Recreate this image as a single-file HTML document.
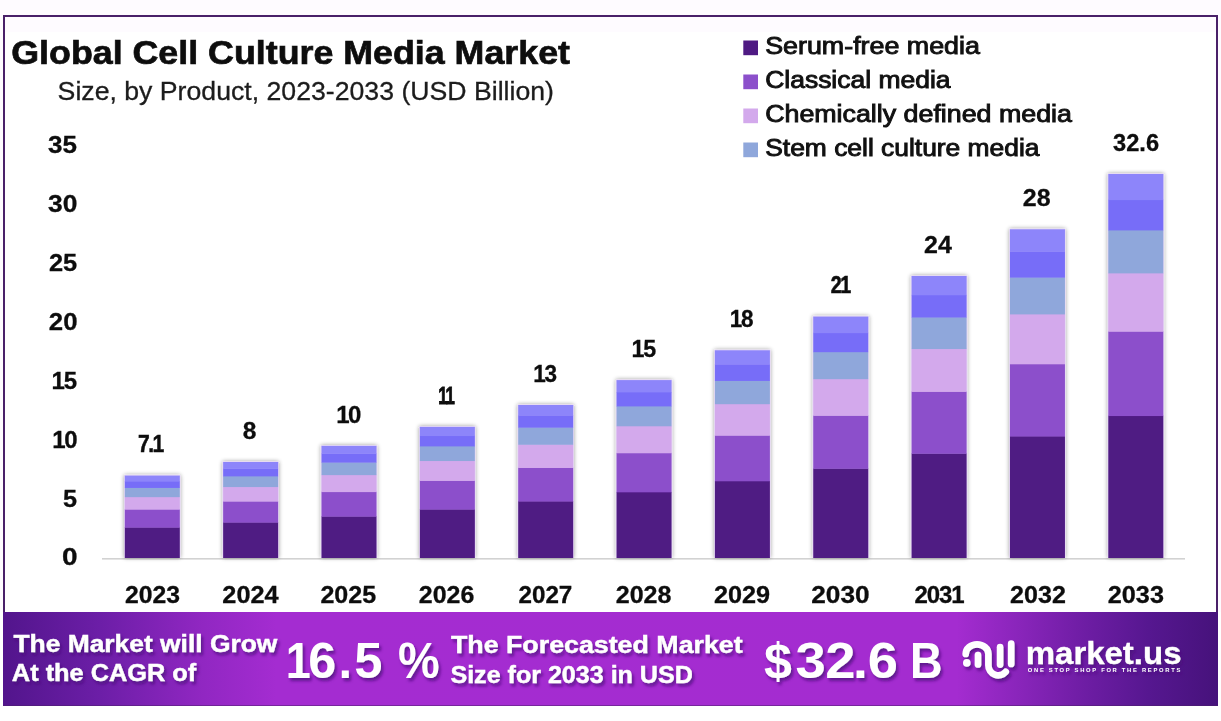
<!DOCTYPE html>
<html lang="en">
<head>
<meta charset="utf-8">
<title>Global Cell Culture Media Market</title>
<style>
html,body{margin:0;padding:0;background:#ffffff;}
body{width:1221px;height:721px;overflow:hidden;font-family:"Liberation Sans",sans-serif;}
svg{display:block;position:absolute;left:0;top:0;}
text{font-family:"Liberation Sans",sans-serif;}
.b{font-weight:700;}
</style>
</head>
<body>
<svg width="1221" height="721" viewBox="0 0 1221 721">
<defs>
<linearGradient id="bg" x1="0" y1="0" x2="1" y2="0">
<stop offset="0" stop-color="#52158c"/>
<stop offset="0.08" stop-color="#6c1ea7"/>
<stop offset="0.165" stop-color="#9127c2"/>
<stop offset="0.225" stop-color="#a42cd1"/>
<stop offset="0.785" stop-color="#a42cd0"/>
<stop offset="0.835" stop-color="#8a25bb"/>
<stop offset="0.89" stop-color="#6e1da4"/>
<stop offset="0.943" stop-color="#561790"/>
<stop offset="1" stop-color="#46127b"/>
</linearGradient>
<filter id="bsh" x="-20%" y="-5%" width="140%" height="110%">
<feGaussianBlur in="SourceAlpha" stdDeviation="2.2"/>
<feOffset dx="0" dy="0"/>
<feComponentTransfer><feFuncA type="linear" slope="0.38"/></feComponentTransfer>
<feMerge><feMergeNode/><feMergeNode in="SourceGraphic"/></feMerge>
</filter>
<filter id="tsh" x="-5%" y="-30%" width="110%" height="170%">
<feGaussianBlur in="SourceAlpha" stdDeviation="1.5" result="bl"/>
<feOffset in="bl" dx="1.8" dy="2.6" result="off"/>
<feFlood flood-color="#4a0f7a" flood-opacity="0.75" result="c"/>
<feComposite in="c" in2="off" operator="in" result="sh"/>
<feMerge><feMergeNode in="sh"/><feMergeNode in="SourceGraphic"/></feMerge>
</filter>
</defs>

<rect x="0" y="0" width="1221" height="721" fill="#ffffff"/>
<rect x="0" y="0" width="1221" height="32" fill="#fefbff"/>
<rect x="0" y="15" width="3" height="597" fill="#fefbff"/>
<rect x="1218" y="15" width="3" height="597" fill="#fefbff"/>
<rect x="4" y="16" width="1213" height="689" fill="none" stroke="#4a2069" stroke-width="2"/>
<text x="11.26" y="63.6" font-size="34" font-weight="700" fill="#0d0d0d" textLength="558.73" lengthAdjust="spacingAndGlyphs" stroke="#0d0d0d" stroke-width="0.7">Global Cell Culture Media Market</text>
<text x="57.64" y="100" font-size="26" font-weight="400" fill="#1c1c1c" textLength="496.3" lengthAdjust="spacingAndGlyphs" stroke="#1c1c1c" stroke-width="0.3">Size, by Product, 2023-2033 (USD Billion)</text>
<text x="48.11" y="153" font-size="24" font-weight="700" fill="#0d0d0d" textLength="28.95" lengthAdjust="spacingAndGlyphs" stroke="#0d0d0d" stroke-width="0.3">35</text>
<text x="48.11" y="212" font-size="24" font-weight="700" fill="#0d0d0d" textLength="29.37" lengthAdjust="spacingAndGlyphs" stroke="#0d0d0d" stroke-width="0.3">30</text>
<text x="48.91" y="271" font-size="24" font-weight="700" fill="#0d0d0d" textLength="28.28" lengthAdjust="spacingAndGlyphs" stroke="#0d0d0d" stroke-width="0.3">25</text>
<text x="48.89" y="330" font-size="24" font-weight="700" fill="#0d0d0d" textLength="28.66" lengthAdjust="spacingAndGlyphs" stroke="#0d0d0d" stroke-width="0.3">20</text>
<text transform="translate(51.45,389)" x="0" y="0" font-size="24" font-weight="700" fill="#0d0d0d" letter-spacing="-1.047" stroke="#0d0d0d" stroke-width="0.3">15</text>
<text transform="translate(52.35,448)" x="0" y="0" font-size="24" font-weight="700" fill="#0d0d0d" letter-spacing="-1.466" stroke="#0d0d0d" stroke-width="0.3">10</text>
<text x="63.05" y="507" font-size="24" font-weight="700" fill="#0d0d0d" textLength="14.05" lengthAdjust="spacingAndGlyphs" stroke="#0d0d0d" stroke-width="0.3">5</text>
<text x="61.96" y="565" font-size="24" font-weight="700" fill="#0d0d0d" textLength="15.56" lengthAdjust="spacingAndGlyphs" stroke="#0d0d0d" stroke-width="0.3">0</text>
<rect x="102" y="558" width="1083" height="1.6" fill="#d2d2d2"/>
<g filter="url(#bsh)">
<rect x="124.00" y="474.80" width="56.6" height="83.20" rx="1.2" fill="#e6d9f4"/>
<rect x="124.80" y="527.26" width="55" height="30.74" fill="#4f1a83"/>
<rect x="124.80" y="509.22" width="55" height="18.44" fill="#8c50cb"/>
<rect x="124.80" y="496.76" width="55" height="12.86" fill="#d3a9ec"/>
<rect x="124.80" y="487.57" width="55" height="9.58" fill="#8fa7db"/>
<rect x="124.80" y="481.09" width="55" height="6.88" fill="#776df8"/>
<rect x="124.80" y="475.60" width="55" height="5.89" fill="#8d85fa"/>
</g>
<text transform="translate(138.12,452.2) scale(0.88,1)" x="0" y="0" font-size="24" font-weight="700" fill="#0d0d0d" letter-spacing="-1.838" stroke="#0d0d0d" stroke-width="0.5">7.1</text>
<text x="125.05" y="603" font-size="24" font-weight="700" fill="#0d0d0d" textLength="54.99" lengthAdjust="spacingAndGlyphs" stroke="#0d0d0d" stroke-width="0.3">2023</text>
<g filter="url(#bsh)">
<rect x="222.35" y="461.20" width="56.6" height="96.80" rx="1.2" fill="#e6d9f4"/>
<rect x="223.15" y="522.23" width="55" height="35.77" fill="#4f1a83"/>
<rect x="223.15" y="501.20" width="55" height="21.43" fill="#8c50cb"/>
<rect x="223.15" y="486.66" width="55" height="14.93" fill="#d3a9ec"/>
<rect x="223.15" y="475.96" width="55" height="11.11" fill="#8fa7db"/>
<rect x="223.15" y="468.41" width="55" height="7.95" fill="#776df8"/>
<rect x="223.15" y="462.00" width="55" height="6.81" fill="#8d85fa"/>
</g>
<text x="242.65" y="438.6" font-size="24" font-weight="700" fill="#0d0d0d" textLength="13.65" lengthAdjust="spacingAndGlyphs" stroke="#0d0d0d" stroke-width="0.3">8</text>
<text x="222.32" y="603" font-size="24" font-weight="700" fill="#0d0d0d" textLength="56.26" lengthAdjust="spacingAndGlyphs" stroke="#0d0d0d" stroke-width="0.3">2024</text>
<g filter="url(#bsh)">
<rect x="320.70" y="445.10" width="56.6" height="112.90" rx="1.2" fill="#e6d9f4"/>
<rect x="321.50" y="516.27" width="55" height="41.73" fill="#4f1a83"/>
<rect x="321.50" y="491.70" width="55" height="24.97" fill="#8c50cb"/>
<rect x="321.50" y="474.72" width="55" height="17.38" fill="#d3a9ec"/>
<rect x="321.50" y="462.21" width="55" height="12.91" fill="#8fa7db"/>
<rect x="321.50" y="453.38" width="55" height="9.22" fill="#776df8"/>
<rect x="321.50" y="445.90" width="55" height="7.88" fill="#8d85fa"/>
</g>
<text transform="translate(336.25,422.5)" x="0" y="0" font-size="24" font-weight="700" fill="#0d0d0d" letter-spacing="-1.607" stroke="#0d0d0d" stroke-width="0.3">10</text>
<text x="320.43" y="603" font-size="24" font-weight="700" fill="#0d0d0d" textLength="55.75" lengthAdjust="spacingAndGlyphs" stroke="#0d0d0d" stroke-width="0.3">2025</text>
<g filter="url(#bsh)">
<rect x="419.05" y="426.10" width="56.6" height="131.90" rx="1.2" fill="#e6d9f4"/>
<rect x="419.85" y="509.24" width="55" height="48.76" fill="#4f1a83"/>
<rect x="419.85" y="480.49" width="55" height="29.15" fill="#8c50cb"/>
<rect x="419.85" y="460.62" width="55" height="20.27" fill="#d3a9ec"/>
<rect x="419.85" y="445.98" width="55" height="15.04" fill="#8fa7db"/>
<rect x="419.85" y="435.66" width="55" height="10.73" fill="#776df8"/>
<rect x="419.85" y="426.90" width="55" height="9.16" fill="#8d85fa"/>
</g>
<text transform="translate(438.29,403.5) scale(0.7,1)" x="0" y="0" font-size="24" font-weight="700" fill="#0d0d0d" letter-spacing="-1.572" stroke="#0d0d0d" stroke-width="0.9">11</text>
<text x="418.84" y="603" font-size="24" font-weight="700" fill="#0d0d0d" textLength="55.49" lengthAdjust="spacingAndGlyphs" stroke="#0d0d0d" stroke-width="0.3">2026</text>
<g filter="url(#bsh)">
<rect x="517.40" y="404.20" width="56.6" height="153.80" rx="1.2" fill="#e6d9f4"/>
<rect x="518.20" y="501.14" width="55" height="56.86" fill="#4f1a83"/>
<rect x="518.20" y="467.57" width="55" height="33.97" fill="#8c50cb"/>
<rect x="518.20" y="444.37" width="55" height="23.60" fill="#d3a9ec"/>
<rect x="518.20" y="427.28" width="55" height="17.49" fill="#8fa7db"/>
<rect x="518.20" y="415.22" width="55" height="12.46" fill="#776df8"/>
<rect x="518.20" y="405.00" width="55" height="10.62" fill="#8d85fa"/>
</g>
<text transform="translate(533.21,381.6) scale(0.94,1)" x="0" y="0" font-size="24" font-weight="700" fill="#0d0d0d" letter-spacing="-1.456" stroke="#0d0d0d" stroke-width="0.3">13</text>
<text x="518.47" y="603" font-size="24" font-weight="700" fill="#0d0d0d" textLength="53.83" lengthAdjust="spacingAndGlyphs" stroke="#0d0d0d" stroke-width="0.3">2027</text>
<g filter="url(#bsh)">
<rect x="615.75" y="379.30" width="56.6" height="178.70" rx="1.2" fill="#e6d9f4"/>
<rect x="616.55" y="491.93" width="55" height="66.08" fill="#4f1a83"/>
<rect x="616.55" y="452.88" width="55" height="39.45" fill="#8c50cb"/>
<rect x="616.55" y="425.89" width="55" height="27.38" fill="#d3a9ec"/>
<rect x="616.55" y="406.01" width="55" height="20.28" fill="#8fa7db"/>
<rect x="616.55" y="391.99" width="55" height="14.42" fill="#776df8"/>
<rect x="616.55" y="380.10" width="55" height="12.29" fill="#8d85fa"/>
</g>
<text transform="translate(631.48,356.7) scale(0.97,1)" x="0" y="0" font-size="24" font-weight="700" fill="#0d0d0d" letter-spacing="-1.272" stroke="#0d0d0d" stroke-width="0.3">15</text>
<text x="615.73" y="603" font-size="24" font-weight="700" fill="#0d0d0d" textLength="55.71" lengthAdjust="spacingAndGlyphs" stroke="#0d0d0d" stroke-width="0.3">2028</text>
<g filter="url(#bsh)">
<rect x="714.10" y="349.50" width="56.6" height="208.50" rx="1.2" fill="#e6d9f4"/>
<rect x="714.90" y="480.90" width="55" height="77.10" fill="#4f1a83"/>
<rect x="714.90" y="435.29" width="55" height="46.01" fill="#8c50cb"/>
<rect x="714.90" y="403.78" width="55" height="31.91" fill="#d3a9ec"/>
<rect x="714.90" y="380.57" width="55" height="23.62" fill="#8fa7db"/>
<rect x="714.90" y="364.19" width="55" height="16.78" fill="#776df8"/>
<rect x="714.90" y="350.30" width="55" height="14.29" fill="#8d85fa"/>
</g>
<text transform="translate(729.81,326.9) scale(0.94,1)" x="0" y="0" font-size="24" font-weight="700" fill="#0d0d0d" letter-spacing="-1.454" stroke="#0d0d0d" stroke-width="0.3">18</text>
<text x="714.03" y="603" font-size="24" font-weight="700" fill="#0d0d0d" textLength="56.13" lengthAdjust="spacingAndGlyphs" stroke="#0d0d0d" stroke-width="0.3">2029</text>
<g filter="url(#bsh)">
<rect x="812.45" y="315.80" width="56.6" height="242.20" rx="1.2" fill="#e6d9f4"/>
<rect x="813.25" y="468.43" width="55" height="89.57" fill="#4f1a83"/>
<rect x="813.25" y="415.41" width="55" height="53.42" fill="#8c50cb"/>
<rect x="813.25" y="378.78" width="55" height="37.03" fill="#d3a9ec"/>
<rect x="813.25" y="351.79" width="55" height="27.39" fill="#8fa7db"/>
<rect x="813.25" y="332.75" width="55" height="19.44" fill="#776df8"/>
<rect x="813.25" y="316.60" width="55" height="16.55" fill="#8d85fa"/>
</g>
<text transform="translate(830.63,293.2) scale(0.82,1)" x="0" y="0" font-size="24" font-weight="700" fill="#0d0d0d" letter-spacing="-1.513" stroke="#0d0d0d" stroke-width="0.6">21</text>
<text x="811.27" y="603" font-size="24" font-weight="700" fill="#0d0d0d" textLength="58.27" lengthAdjust="spacingAndGlyphs" stroke="#0d0d0d" stroke-width="0.3">2030</text>
<g filter="url(#bsh)">
<rect x="910.80" y="275.20" width="56.6" height="282.80" rx="1.2" fill="#e6d9f4"/>
<rect x="911.60" y="453.41" width="55" height="104.59" fill="#4f1a83"/>
<rect x="911.60" y="391.46" width="55" height="62.35" fill="#8c50cb"/>
<rect x="911.60" y="348.65" width="55" height="43.20" fill="#d3a9ec"/>
<rect x="911.60" y="317.11" width="55" height="31.94" fill="#8fa7db"/>
<rect x="911.60" y="294.87" width="55" height="22.65" fill="#776df8"/>
<rect x="911.60" y="276.00" width="55" height="19.27" fill="#8d85fa"/>
</g>
<text x="924.04" y="252.6" font-size="24" font-weight="700" fill="#0d0d0d" textLength="27.76" lengthAdjust="spacingAndGlyphs" stroke="#0d0d0d" stroke-width="0.3">24</text>
<text transform="translate(914.47,603)" x="0" y="0" font-size="24" font-weight="700" fill="#0d0d0d" letter-spacing="-1.089" stroke="#0d0d0d" stroke-width="0.3">2031</text>
<g filter="url(#bsh)">
<rect x="1009.15" y="228.50" width="56.6" height="329.50" rx="1.2" fill="#e6d9f4"/>
<rect x="1009.95" y="436.13" width="55" height="121.87" fill="#4f1a83"/>
<rect x="1009.95" y="363.90" width="55" height="72.63" fill="#8c50cb"/>
<rect x="1009.95" y="314.00" width="55" height="50.30" fill="#d3a9ec"/>
<rect x="1009.95" y="277.23" width="55" height="37.17" fill="#8fa7db"/>
<rect x="1009.95" y="251.30" width="55" height="26.34" fill="#776df8"/>
<rect x="1009.95" y="229.30" width="55" height="22.40" fill="#8d85fa"/>
</g>
<text x="1022.84" y="205.9" font-size="24" font-weight="700" fill="#0d0d0d" textLength="27.75" lengthAdjust="spacingAndGlyphs" stroke="#0d0d0d" stroke-width="0.3">28</text>
<text x="1010.13" y="603" font-size="24" font-weight="700" fill="#0d0d0d" textLength="55.75" lengthAdjust="spacingAndGlyphs" stroke="#0d0d0d" stroke-width="0.3">2032</text>
<g filter="url(#bsh)">
<rect x="1107.50" y="173.20" width="56.6" height="384.80" rx="1.2" fill="#e6d9f4"/>
<rect x="1108.30" y="415.67" width="55" height="142.33" fill="#4f1a83"/>
<rect x="1108.30" y="331.28" width="55" height="84.79" fill="#8c50cb"/>
<rect x="1108.30" y="272.97" width="55" height="58.71" fill="#d3a9ec"/>
<rect x="1108.30" y="230.01" width="55" height="43.36" fill="#8fa7db"/>
<rect x="1108.30" y="199.70" width="55" height="30.70" fill="#776df8"/>
<rect x="1108.30" y="174.00" width="55" height="26.10" fill="#8d85fa"/>
</g>
<text x="1113.04" y="150.6" font-size="24" font-weight="700" fill="#0d0d0d" textLength="46.0" lengthAdjust="spacingAndGlyphs" stroke="#0d0d0d" stroke-width="0.3">32.6</text>
<text x="1107.83" y="603" font-size="24" font-weight="700" fill="#0d0d0d" textLength="56.09" lengthAdjust="spacingAndGlyphs" stroke="#0d0d0d" stroke-width="0.3">2033</text>
<rect x="743.3" y="40.5" width="14.7" height="14.7" fill="#4f1a83"/>
<text x="765.2" y="54" font-size="23" font-weight="400" fill="#111111" textLength="214.74" lengthAdjust="spacingAndGlyphs" stroke="#111111" stroke-width="0.9">Serum-free media</text>
<rect x="743.3" y="74.5" width="14.7" height="14.7" fill="#8c50cb"/>
<text x="765.16" y="88" font-size="23" font-weight="400" fill="#111111" textLength="185.44" lengthAdjust="spacingAndGlyphs" stroke="#111111" stroke-width="0.9">Classical media</text>
<rect x="743.3" y="108.5" width="14.7" height="14.7" fill="#d3a9ec"/>
<text x="765.15" y="122" font-size="23" font-weight="400" fill="#111111" textLength="306.8" lengthAdjust="spacingAndGlyphs" stroke="#111111" stroke-width="0.9">Chemically defined media</text>
<rect x="743.3" y="142.5" width="14.7" height="14.7" fill="#8fa7db"/>
<text x="765.22" y="155.8" font-size="23" font-weight="400" fill="#111111" textLength="274.29" lengthAdjust="spacingAndGlyphs" stroke="#111111" stroke-width="0.9">Stem cell culture media</text>
<rect x="3" y="612" width="1215" height="93.5" fill="url(#bg)"/>
<g filter="url(#tsh)">
<text x="13.45" y="651.7" font-size="24.5" font-weight="700" fill="#ffffff" textLength="263.93" lengthAdjust="spacingAndGlyphs" stroke="#ffffff" stroke-width="0.4">The Market will Grow</text>
<text x="11.86" y="681.4" font-size="24.5" font-weight="700" fill="#ffffff" textLength="184.38" lengthAdjust="spacingAndGlyphs" stroke="#ffffff" stroke-width="0.4">At the CAGR of</text>
<text x="285.68" y="678" font-size="50" font-weight="700" fill="#ffffff" textLength="25.02" lengthAdjust="spacingAndGlyphs">1</text>
<text x="308.15" y="678" font-size="50" font-weight="700" fill="#ffffff" textLength="27.99" lengthAdjust="spacingAndGlyphs">6</text>
<text x="338.53" y="678" font-size="50" font-weight="700" fill="#ffffff" textLength="13.63" lengthAdjust="spacingAndGlyphs">.</text>
<text x="354.22" y="678" font-size="50" font-weight="700" fill="#ffffff" textLength="28.16" lengthAdjust="spacingAndGlyphs">5</text>
<text x="397.88" y="678" font-size="50" font-weight="700" fill="#ffffff" textLength="41.67" lengthAdjust="spacingAndGlyphs">%</text>
<text x="450.95" y="653.4" font-size="24.5" font-weight="700" fill="#ffffff" textLength="291.72" lengthAdjust="spacingAndGlyphs" stroke="#ffffff" stroke-width="0.4">The Forecasted Market</text>
<text x="450.43" y="683.4" font-size="24.5" font-weight="700" fill="#ffffff" textLength="242.38" lengthAdjust="spacingAndGlyphs" stroke="#ffffff" stroke-width="0.4">Size for 2033 in USD</text>
<text x="764.0" y="678" font-size="50" font-weight="700" fill="#ffffff" textLength="27.88" lengthAdjust="spacingAndGlyphs">$</text>
<text x="795.51" y="678" font-size="50" font-weight="700" fill="#ffffff" textLength="30.3" lengthAdjust="spacingAndGlyphs">3</text>
<text x="825.23" y="678" font-size="50" font-weight="700" fill="#ffffff" textLength="30.25" lengthAdjust="spacingAndGlyphs">2</text>
<text x="853.01" y="678" font-size="50" font-weight="700" fill="#ffffff" textLength="14.86" lengthAdjust="spacingAndGlyphs">.</text>
<text x="867.7" y="678" font-size="50" font-weight="700" fill="#ffffff" textLength="30.2" lengthAdjust="spacingAndGlyphs">6</text>
<text x="910.0" y="678" font-size="50" font-weight="700" fill="#ffffff" textLength="32.55" lengthAdjust="spacingAndGlyphs">B</text>
<g fill="none" stroke="#ffffff" stroke-width="6.7" stroke-linecap="round" stroke-linejoin="round">
<path d="M965.7 654 A 11.35 9.7 0 0 1 988.4 654 L 988.4 665.3 A 9.8 9.8 0 0 0 1005.7 671.8"/>
<path d="M978 655 L 978 664.4"/>
<path d="M1000.1 647.2 L 1000.1 664.6"/>
<path d="M1011.2 643.7 L 1011.2 663.9"/>
</g>
<circle cx="966.8" cy="662.9" r="3.8" fill="#fff"/>
<text x="1025.78" y="663.5" font-size="31" font-weight="700" fill="#ffffff" textLength="155.7" lengthAdjust="spacingAndGlyphs" stroke="#ffffff" stroke-width="0.3">market.us</text>
<text transform="translate(1027.76,672.4)" x="0" y="0" font-size="5.8" font-weight="700" fill="#ffffff" letter-spacing="1.72">ONE STOP SHOP FOR THE REPORTS</text>
</g>
</svg>
</body>
</html>
